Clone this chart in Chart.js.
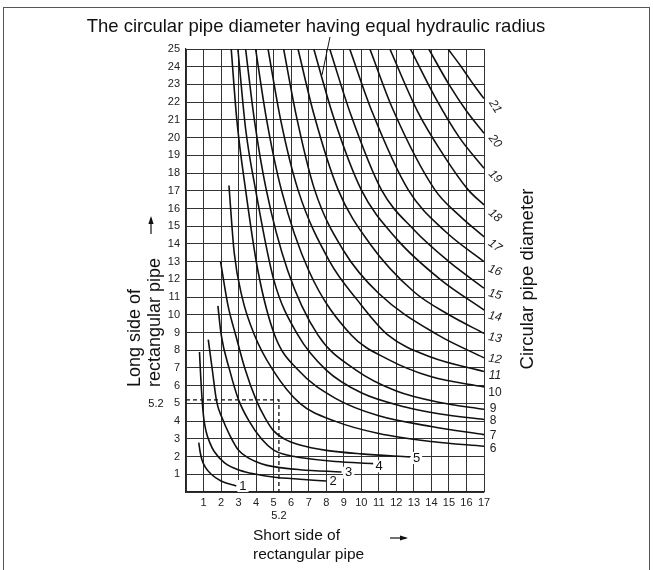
<!DOCTYPE html>
<html><head><meta charset="utf-8">
<script src="https://cdn.jsdelivr.net/npm/chart.js@4/dist/chart.umd.min.js"></script>
<style>
html,body{margin:0;padding:0;background:#fff;}
#wrap{position:relative;width:653px;height:570px;overflow:hidden;}
#frame{position:absolute;left:3px;top:7px;width:647px;height:570px;border:1.5px solid #555;box-sizing:border-box;}
canvas{position:absolute;left:0;top:0;}
</style></head><body>
<div id="wrap"><div id="frame"></div><canvas id="c" width="653" height="570"></canvas></div>
<script>
// ---- tick labels ----
const xTicks = [1,2,3,4,5,6,7,8,9,10,11,12,13,14,15,16,17];
const yTicks = [1,2,3,4,5,6,7,8,9,10,11,12,13,14,15,16,17,18,19,20,21,22,23,24,25];

// ---- curves: circular pipe diameter -> [short side, long side] points ----
const c1 = [[0.73,2.79],[0.8,2.3],[0.9,1.85],[1.1,1.4],[1.44,1.0],[2.0,0.62],[2.87,0.34]];
const c2 = [[0.77,7.9],[0.84,6.5],[0.92,5.2],[1.02,4.1],[1.15,3.4],[1.35,2.8],[1.6,2.3],[2.2,1.65],[3.06,1.23],[4.0,1.0],[4.96,0.85],[6.5,0.72],[8.0,0.62]];
const c3 = [[1.27,8.6],[1.5,6.9],[1.75,5.1],[2.05,4.2],[2.5,3.2],[3.0,2.35],[3.6,1.9],[4.3,1.6],[5.0,1.43],[6.5,1.26],[8.87,1.13]];
const c4 = [[1.82,10.5],[2.01,8.85],[2.49,6.88],[3.0,5.2],[3.6,4.0],[4.3,3.0],[5.0,2.36],[5.7,2.1],[6.5,1.95],[8.5,1.72],[10.68,1.6]];
const c5 = [[1.97,13.0],[2.4,10.5],[2.85,8.8],[3.35,7.0],[4.0,5.2],[4.5,4.2],[5.0,3.45],[5.6,3.0],[6.5,2.65],[8.0,2.35],[10,2.15],[12.77,1.98]];
const c6 = [[2.45,17.3],[2.75,13.5],[3.2,11.0],[3.91,8.85],[4.96,6.88],[6.5,5.0],[8.5,4.0],[11,3.3],[14,2.85],[17,2.58]];
const c7 = [[2.58,25],[2.9,21],[3.4,17.05],[4.1,12.5],[5.06,8.85],[6.4,6.88],[8.5,5.3],[11,4.3],[14,3.7],[17,3.24]];
const c8 = [[2.96,25],[3.4,20.5],[3.97,17.05],[5.0,12.0],[6.39,8.85],[8.0,6.88],[10,5.6],[12.5,4.8],[14.5,4.4],[17,4.09]];
const c9 = [[3.40,25],[3.9,21],[4.58,17.05],[5.8,12.5],[7.53,8.85],[9.7,6.88],[12,5.7],[14.5,5.05],[17,4.67]];
const c10 = [[3.97,25],[4.6,21],[5.44,17.05],[7.0,12.5],[9.44,8.85],[11.5,7.5],[14,6.5],[17,5.93]];
const c11 = [[4.68,25],[5.4,21],[6.39,17.05],[8.2,13],[9.8,10.8],[11.53,8.85],[14,7.6],[17,6.8]];
const c12 = [[5.57,25],[6.3,21.2],[7.34,17.05],[9.0,13.6],[11,11.2],[14.39,8.85],[17,7.57]];
const c13 = [[6.39,25],[7.3,21.3],[8.68,17.05],[10.5,14.0],[13,11.3],[15,10.0],[17,8.95]];
const c14 = [[7.29,25],[8.4,21.2],[10.0,17.05],[12,14.3],[14.5,12.0],[17,10.27]];
const c15 = [[8.2,25],[9.4,21.3],[11.15,17.05],[13,14.8],[15,13.0],[17,11.5]];
const c16 = [[9.34,25],[10.6,21.5],[12.68,17.05],[14.8,14.7],[17,13.0]];
const c17 = [[10.49,25],[11.8,21.6],[14.2,17.05],[15.6,15.6],[17,14.4]];
const c18 = [[11.63,25],[13.2,21.5],[14.7,19.0],[16.1,17.05],[17,16.2]];
const c19 = [[12.8,25],[14.2,22.3],[15.6,20.0],[17,18.27]];
const c20 = [[13.85,25],[15.0,23.0],[16.0,21.5],[17,20.25]];
const c21 = [[14.95,25],[15.7,24],[16.4,23],[17,22.2]];
const curves = [c1,c2,c3,c4,c5,c6,c7,c8,c9,c10,c11,c12,c13,c14,c15,c16,c17,c18,c19,c20,c21];
const diameters = [1,2,3,4,5,6,7,8,9,10,11,12,13,14,15,16,17,18,19,20,21];

// ---- example reading (dashed) ----
const exampleShort = 5.3;
const exampleLong = 5.2;

// ---- curve labels ----
const innerLabels = ['1','2','3','4','5'];
const innerLabelX = [3.25,8.39,9.28,11.02,13.15];
const innerLabelY = [0.34,0.6,1.09,1.45,1.92];
const rightLabels = ['6','7','8','9','10','11','12','13','14','15','16','17','18','19','20','21'];
const rightLabelY = [2.45,3.15,4.0,4.7,5.6,6.55,7.5,8.7,9.9,11.15,12.5,13.9,15.6,17.8,19.8,21.75];
// styles for right labels
const rightLabelRot = [0,0,0,0,0,0,8,10,12,15,20,35,40,45,50,58];

const FONT = '"Liberation Sans", Arial, Helvetica, sans-serif';

const datasets = curves.map((pts,i)=>({
  label: 'D=' + diameters[i],
  data: pts.map(p=>({x:p[0], y:p[1]})),
  showLine: true, borderColor:'#111', borderWidth:1.6, pointRadius:0,
  cubicInterpolationMode:'monotone', fill:false
}));
datasets.push({
  label:'example',
  data:[{x:0,y:exampleLong},{x:exampleShort,y:exampleLong},{x:exampleShort,y:0}],
  showLine:true, borderColor:'#111', borderWidth:1.3, borderDash:[4,3], pointRadius:0, tension:0
});

function arrow(ctx,x1,y1,x2,y2){
  ctx.save();
  ctx.strokeStyle='#111'; ctx.fillStyle='#111'; ctx.lineWidth=1.2;
  ctx.beginPath(); ctx.moveTo(x1,y1); ctx.lineTo(x2,y2); ctx.stroke();
  const a=Math.atan2(y2-y1,x2-x1);
  ctx.beginPath();
  ctx.moveTo(x2+Math.cos(a)*2,y2+Math.sin(a)*2);
  ctx.lineTo(x2-Math.cos(a)*6+Math.sin(a)*2.6, y2-Math.sin(a)*6-Math.cos(a)*2.6);
  ctx.lineTo(x2-Math.cos(a)*6-Math.sin(a)*2.6, y2-Math.sin(a)*6+Math.cos(a)*2.6);
  ctx.closePath(); ctx.fill();
  ctx.restore();
}

const annot = {
  id:'annot',
  afterDraw(chart){
    const ctx=chart.ctx, xs=chart.scales.x, ys=chart.scales.y;
    ctx.save();
    ctx.fillStyle='#111';
    // title
    ctx.font='18.5px '+FONT; ctx.textAlign='center'; ctx.textBaseline='middle';
    ctx.fillText('The circular pipe diameter having equal hydraulic radius', 316, 27);
    // leader line
    ctx.strokeStyle='#111'; ctx.lineWidth=1;
    ctx.beginPath(); ctx.moveTo(330,37); ctx.lineTo(322,75); ctx.stroke();
    // bottom axis title
    ctx.font='15.5px '+FONT;
    ctx.textAlign='left'; ctx.textBaseline='alphabetic';
    ctx.fillText('Short side of', 253, 540);
    ctx.fillText('rectangular pipe', 253, 559);
    arrow(ctx,390,538,406,538);
    // left axis title
    ctx.font='18px '+FONT;
    ctx.save();
    ctx.translate(140,387); ctx.rotate(-Math.PI/2);
    ctx.fillText('Long side of',0,0);
    ctx.fillText('rectangular pipe',0,20);
    ctx.restore();
    arrow(ctx,151,234,151,218);
    // right axis title
    ctx.font='18.5px '+FONT;
    ctx.save(); ctx.translate(533,279); ctx.rotate(-Math.PI/2);
    ctx.textAlign='center'; ctx.fillText('Circular pipe diameter',0,0);
    ctx.restore();
    // 5.2 labels
    ctx.font='11px '+FONT; ctx.textAlign='center'; ctx.textBaseline='middle';
    ctx.fillText(String(exampleLong), 156, ys.getPixelForValue(5)+1);
    ctx.fillText(String(exampleLong), xs.getPixelForValue(exampleShort), 516);
    // inner labels
    ctx.font='13px '+FONT;
    innerLabels.forEach((t,i)=>{
      const px=xs.getPixelForValue(innerLabelX[i]), py=ys.getPixelForValue(innerLabelY[i]);
      const w=ctx.measureText(t).width;
      ctx.fillStyle='#fff'; ctx.fillRect(px-w/2-2,py-6,w+4,12);
      ctx.fillStyle='#111'; ctx.fillText(t,px,py);
    });
    // right labels
    const rx = xs.getPixelForValue(17)+9;
    rightLabels.forEach((t,i)=>{
      const py=ys.getPixelForValue(rightLabelY[i]);
      ctx.save();
      ctx.translate(rx+ (t.length>1?2:0), py);
      ctx.rotate(rightLabelRot[i]*Math.PI/180);
      ctx.font=(i>=5?'italic ':'')+'12px '+FONT;
      ctx.textAlign='center'; ctx.textBaseline='middle'; ctx.fillStyle='#222';
      ctx.fillText(t,0,0);
      ctx.restore();
    });
    ctx.restore();
  }
};

new Chart(document.getElementById('c'),{
  type:'scatter',
  data:{datasets},
  options:{
    responsive:false, animation:false,
    layout:{padding:{left:0,right:169,top:49,bottom:0}},
    plugins:{legend:{display:false},tooltip:{enabled:false}},
    scales:{
      x:{type:'linear',min:0,max:17,
        afterFit(s){s.height=78;},
        afterBuildTicks(s){s.ticks=[0].concat(xTicks).map(v=>({value:v}));},
        grid:{color:'#333',lineWidth:1,drawTicks:false},
        border:{color:'#222',width:1.2},
        ticks:{padding:4,color:'#222',font:{family:FONT,size:11},callback:(v)=>v===0?'':String(v),maxRotation:0,autoSkip:false}},
      y:{type:'linear',min:0,max:25,
        afterFit(s){s.width=186;},
        afterBuildTicks(s){s.ticks=[0].concat(yTicks).map(v=>({value:v}));},
        grid:{color:'#333',lineWidth:1,drawTicks:false},
        border:{color:'#222',width:1.2},
        ticks:{padding:6,color:'#222',font:{family:FONT,size:11},callback:(v)=>v===0?'':String(v),autoSkip:false}}
    }
  },
  plugins:[annot]
});
</script>
</body></html>
